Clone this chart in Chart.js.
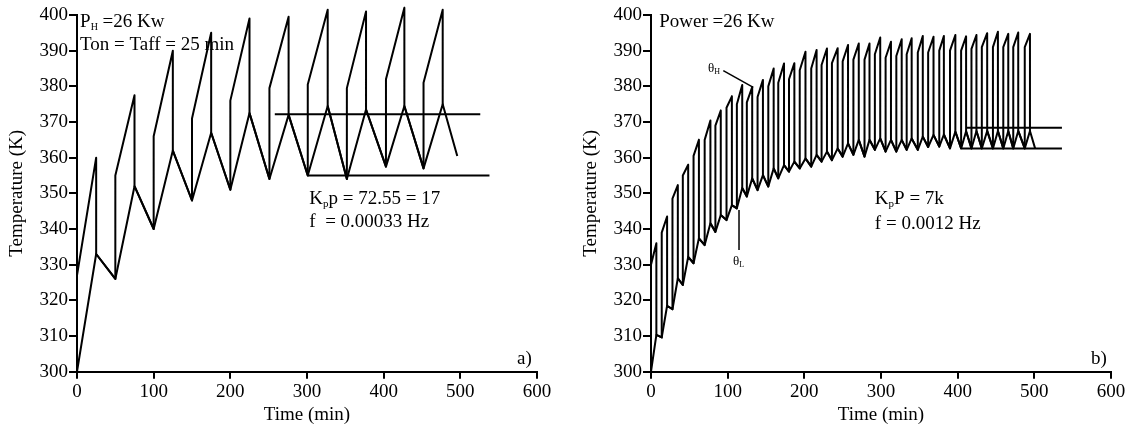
<!DOCTYPE html>
<html>
<head>
<meta charset="utf-8">
<script src="https://cdn.jsdelivr.net/npm/chart.js@4.4.1/dist/chart.umd.min.js"></script>
<style>
body { margin: 0; background: #fff; }
canvas { position: absolute; top: 0; }
#chartA { left: 0; }
#chartB { left: 574px; }
</style>
</head>
<body>
<canvas id="chartA" width="555" height="426"></canvas>
<canvas id="chartB" width="555" height="426"></canvas>
<script>
// panel a) : Ton = Taff = 25 min
const tOnA = [0, 50, 100, 150, 200, 251, 301, 352, 403, 452];
const tPeakA = [25, 75, 125, 175, 225, 276, 327, 377, 427, 477];
const lowValleyA = [300, 326, 340, 348, 351, 354, 355, 354, 357.5, 357];
const lowPeakA = [333, 352, 362, 367, 372.5, 372, 374.5, 373.5, 374.5, 375];
const highStartA = [327, 355, 366, 371, 376, 379.5, 380.5, 379.5, 382, 381];
const highPeakA = [360, 377.5, 390, 395, 399, 399.5, 401.5, 401, 402, 401.5];
const endA = [496, 360.5];
const refLevelA = [372.2, 355];
const refFromA = [258, 301];
const refToA = [526, 538];

// panel b) : f = 0.0012 Hz
const tOnB = [0, 14, 28, 41.5, 55.5, 70, 84, 98.5, 112, 125, 139, 153, 166, 180, 194, 209, 222.5, 236,
  250, 264, 278.5, 292, 306, 320, 333.5, 348, 361.5, 376, 390, 404.5, 418, 431.5, 446, 459.5, 472.5, 487.5];
const tPeakB = [7, 21, 35, 48.5, 62.5, 77.5, 91, 105.5, 119, 132, 146, 160, 173.5, 187, 201.5, 216, 229.5, 243.5,
  257, 271, 285, 299, 313, 327, 340, 354.5, 368.5, 382, 397, 411, 424.5, 438.5, 452.5, 466, 479, 494.3];
const lowValleyB = [300, 309.6, 317.5, 324.3, 330.4, 335.5, 339.2, 342.5, 345.8, 349.1, 350.9, 351.9, 354.2, 356.1, 357, 357.5, 358.9, 359.3,
  360.3, 360.8, 360.3, 362.2, 361.7, 361.7, 362.2, 362.2, 363, 363.1, 362.6, 362.6, 362.6, 362.6, 362.6, 362.6, 362.6, 362.6];
const lowPeakB = [310.3, 318.5, 326.2, 332.2, 337.4, 341.6, 343.9, 346.7, 351.5, 354.2, 355.1, 357, 357.9, 358.9, 359.8, 360.8, 361.7, 362.6,
  364, 365, 365, 365.4, 365, 365, 365.4, 365.9, 366.4, 366.5, 367.3, 367.4, 367.5, 367.5, 367.5, 367.5, 367.5, 367.5];
const highStartB = [330, 339, 348.5, 355, 360.5, 365, 369, 374, 375, 375.5, 377, 380, 381, 382, 384.5, 385, 386, 386.5,
  387, 387.5, 387.5, 389, 388, 388.5, 389, 389.5, 389.5, 390, 390, 390, 390.5, 391, 391, 391, 391, 391];
const highPeakB = [336, 343.5, 352.3, 358, 365, 370.4, 373.2, 377.2, 380.4, 379.8, 381.8, 385, 386.4, 386.5, 389.7, 390.2, 390.6, 390.7,
  391.6, 392, 392, 393.7, 392.5, 393.2, 393.5, 394.1, 393.9, 394.1, 394.4, 394, 394.4, 394.9, 395.3, 394.7, 395.1, 394.7];
const endB = [501, 362.6];
const refLevelB = [368.4, 362.6];
const refFromB = [412, 405];
const refToB = [536, 536];

const xTicks = [0, 100, 200, 300, 400, 500, 600];
const yTicks = [300, 310, 320, 330, 340, 350, 360, 370, 380, 390, 400];

const FONT = 'Liberation Serif';

// theta_L : rises while heating, falls while off
function lowTrace(tOn, tPeak, valley, peak, end) {
  const pts = [];
  tOn.forEach((t, i) => {
    pts.push({x: t, y: valley[i]});
    pts.push({x: tPeak[i], y: peak[i]});
  });
  pts.push({x: end[0], y: end[1]});
  return pts;
}

// theta_H : jumps up at switch-on, drops back at switch-off
function highTrace(tOn, tPeak, valley, start, top, peak) {
  const pts = [];
  tOn.forEach((t, i) => {
    pts.push({x: t, y: valley[i]}, {x: t, y: start[i]}, {x: tPeak[i], y: top[i]}, {x: tPeak[i], y: peak[i]});
  });
  return pts;
}

function lineSet(data, width) {
  return {
    data: data,
    showLine: true,
    borderColor: '#000',
    borderWidth: width,
    pointRadius: 0,
    borderJoinStyle: 'round',
    clip: false
  };
}

function refSets(levels, from, to) {
  return levels.map((v, i) => lineSet([{x: from[i], y: v}, {x: to[i], y: v}], 2));
}

//draws the text notes and pointers, positions given in data units
const notesPlugin = {
  id: 'notes',
  afterDraw(chart, args, opts) {
    const ctx = chart.ctx;
    const xs = chart.scales.x, ys = chart.scales.y;
    ctx.save();
    ctx.fillStyle = '#000';
    ctx.strokeStyle = '#000';
    ctx.textBaseline = 'alphabetic';
    ctx.textAlign = 'left';
    (opts.pointers || []).forEach(p => {
      ctx.lineWidth = 1.5;
      ctx.beginPath();
      ctx.moveTo(xs.getPixelForValue(p[0]), ys.getPixelForValue(p[1]));
      ctx.lineTo(xs.getPixelForValue(p[2]), ys.getPixelForValue(p[3]));
      ctx.stroke();
    });
    (opts.texts || []).forEach(n => {
      let x = xs.getPixelForValue(n.x);
      const y = ys.getPixelForValue(n.y);
      n.parts.forEach(part => {
        ctx.font = part[1] + 'px "' + FONT + '"';
        ctx.fillText(part[0], x, y + (part[2] || 0));
        x += ctx.measureText(part[0]).width;
      });
    });
    ctx.restore();
  }
};

function makeChart(id, datasets, notes) {
  const font = {family: FONT, size: 19};
  return new Chart(document.getElementById(id), {
    type: 'scatter',
    data: {datasets: datasets},
    plugins: [notesPlugin],
    options: {
      responsive: false,
      animation: false,
      devicePixelRatio: 1,
      layout: {padding: {top: 15, right: 18, left: 0, bottom: 0}},
      scales: {
        x: {
          type: 'linear', min: 0, max: 600,
          afterBuildTicks: s => { s.ticks = xTicks.map(v => ({value: v})); },
          ticks: {color: '#000', font: font, padding: 2, maxRotation: 0},
          grid: {drawOnChartArea: false, color: '#000', lineWidth: 2, tickLength: 7},
          border: {color: '#000', width: 2},
          title: {display: true, text: 'Time (min)', color: '#000', font: font, padding: 0},
          afterFit: s => { s.height = 54.3; }
        },
        y: {
          type: 'linear', min: 300, max: 400,
          afterBuildTicks: s => { s.ticks = yTicks.map(v => ({value: v})); },
          ticks: {color: '#000', font: font, padding: 1},
          grid: {drawOnChartArea: false, color: '#000', lineWidth: 2, tickLength: 8},
          border: {color: '#000', width: 2},
          title: {display: true, text: 'Temperature (K)', color: '#000', font: font, padding: {top: 6.1, bottom: 0}},
          afterFit: s => { s.width = 77; }
        }
      },
      plugins: {
        legend: {display: false},
        tooltip: {enabled: false},
        notes: notes
      }
    }
  });
}

makeChart('chartA', [
  lineSet(lowTrace(tOnA, tPeakA, lowValleyA, lowPeakA, endA), 2),
  lineSet(highTrace(tOnA, tPeakA, lowValleyA, highStartA, highPeakA, lowPeakA), 2),
  ...refSets(refLevelA, refFromA, refToA)
], {
  texts: [
    {x: 4, y: 396.6, parts: [['P', 19], ['H', 10, 3], [' =26 Kw', 19]]},
    {x: 4, y: 390.2, parts: [['Ton = Taff = 25 min', 19]]},
    {x: 303, y: 347, parts: [['K', 19], ['p', 11, 3], ['p = 72.55 = 17', 19]]},
    {x: 303, y: 340.6, parts: [['f  = 0.00033 Hz', 19]]},
    {x: 574, y: 302.2, parts: [['a)', 19]]}
  ]
});

makeChart('chartB', [
  lineSet(lowTrace(tOnB, tPeakB, lowValleyB, lowPeakB, endB), 2),
  lineSet(highTrace(tOnB, tPeakB, lowValleyB, highStartB, highPeakB, lowPeakB), 2),
  ...refSets(refLevelB, refFromB, refToB)
], {
  texts: [
    {x: 10.8, y: 396.5, parts: [['Power =26 Kw', 19]]},
    {x: 74.3, y: 384, parts: [['\u03b8', 13], ['H', 8, 2]]},
    {x: 107, y: 329.9, parts: [['\u03b8', 13], ['L', 8, 2]]},
    {x: 292, y: 347, parts: [['K', 19], ['p', 11, 3], ['P = 7k', 19]]},
    {x: 292, y: 340, parts: [['f = 0.0012 Hz', 19]]},
    {x: 574, y: 302.2, parts: [['b)', 19]]}
  ],
  pointers: [
    [94.3, 384.4, 133.4, 379.7],
    [114.8, 345.3, 114.8, 334.1]
  ]
});
</script>
</body>
</html>
